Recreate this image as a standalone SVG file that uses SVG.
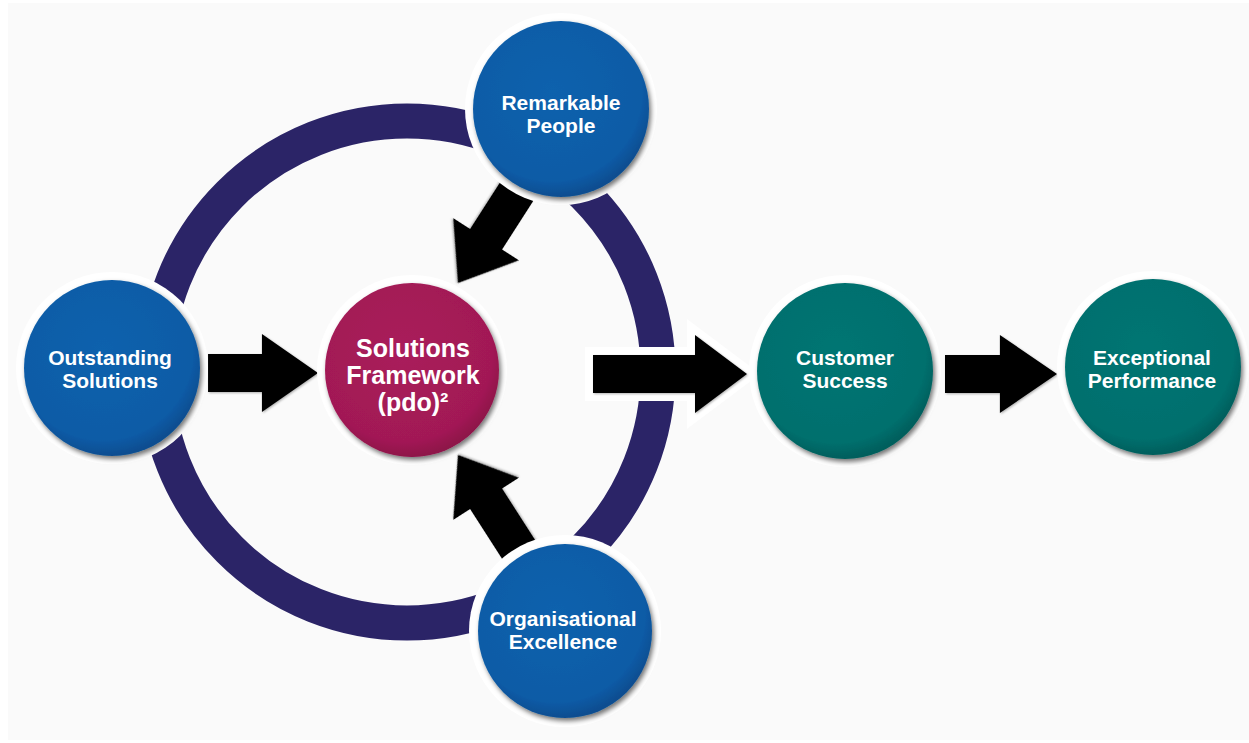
<svg xmlns="http://www.w3.org/2000/svg" width="1249" height="743" viewBox="0 0 1249 743">
  <defs>
    <radialGradient id="gBlue" cx="45%" cy="40%" r="60%">
      <stop offset="0%" stop-color="#0d62ad"/>
      <stop offset="85%" stop-color="#0a5ba6"/>
      <stop offset="100%" stop-color="#084d90"/>
    </radialGradient>
    <radialGradient id="gRed" cx="45%" cy="40%" r="60%">
      <stop offset="0%" stop-color="#a91d5b"/>
      <stop offset="85%" stop-color="#a21955"/>
      <stop offset="100%" stop-color="#8e1249"/>
    </radialGradient>
    <radialGradient id="gTeal" cx="45%" cy="40%" r="60%">
      <stop offset="0%" stop-color="#047573"/>
      <stop offset="85%" stop-color="#006f6d"/>
      <stop offset="100%" stop-color="#005e5c"/>
    </radialGradient>
    <filter id="shadow" x="-20%" y="-20%" width="140%" height="140%">
      <feDropShadow dx="2" dy="3" stdDeviation="2.5" flood-color="#000" flood-opacity="0.55"/>
    </filter>
    <filter id="ashadow" x="-20%" y="-20%" width="140%" height="140%">
      <feDropShadow dx="1" dy="1" stdDeviation="1" flood-color="#000" flood-opacity="0.3"/>
    </filter>
    <polygon id="arrowH" points="0,0 -52,-39 -52,-19 -102,-19 -102,19 -52,19 -52,39"/>
    <polygon id="arrowBig" points="0,0 -52,-39 -52,-19 -154,-19 -154,19 -52,19 -52,39"/>
    <polygon id="arrowD" points="0,0 -52,-39 -52,-19 -130,-19 -130,19 -52,19 -52,39"/>
  </defs>
  <style>
    .halo { fill: #ffffff; }
    .blue { fill: url(#gBlue); filter: url(#shadow); }
    .red { fill: url(#gRed); filter: url(#shadow); }
    .teal { fill: url(#gTeal); filter: url(#shadow); }
    .lbl { font-family: "Liberation Sans", Arial, sans-serif; font-weight: bold; fill: #ffffff; text-anchor: middle; font-size: 21px; }
    .lblBig { font-size: 25px; }
    .arrow { fill: #000000; filter: url(#ashadow); }
    .arrowOutline { fill: #ffffff; stroke: #ffffff; stroke-width: 16; stroke-linejoin: miter; }
    .ring { fill: none; stroke: #2b2467; stroke-width: 35; }
  </style>

  <rect x="0" y="0" width="1249" height="743" fill="#ffffff"/>
  <rect x="8" y="3" width="1241" height="737" fill="#fafafa"/>

  <g id="connectors">
    <circle class="ring" cx="407" cy="372" r="251"/>
    <use href="#arrowH" class="arrow" transform="translate(318,373) scale(1.078,1)"/>
    <use href="#arrowBig" class="arrowOutline" transform="translate(747,374)"/>
    <use href="#arrowBig" class="arrow" transform="translate(747,374)"/>
    <use href="#arrowH" class="arrow" transform="translate(1057,374) scale(1.098,1)"/>
    <use href="#arrowD" class="arrow" transform="translate(458,283) rotate(122.7)"/>
    <use href="#arrowD" class="arrow" transform="translate(458,455) rotate(-122.7)"/>
  </g>

  <g id="node-remarkable">
    <circle class="halo" cx="561" cy="109" r="96"/>
    <circle class="blue" cx="561" cy="109" r="88"/>
    <text class="lbl" x="561" y="110">Remarkable</text>
    <text class="lbl" x="561" y="133">People</text>
  </g>

  <g id="node-outstanding">
    <circle class="halo" cx="112" cy="368" r="96"/>
    <circle class="blue" cx="112" cy="368" r="88"/>
    <text class="lbl" x="110" y="365">Outstanding</text>
    <text class="lbl" x="110" y="388">Solutions</text>
  </g>

  <g id="node-framework">
    <circle class="halo" cx="412" cy="370" r="95"/>
    <circle class="red" cx="412" cy="370" r="87"/>
    <text class="lbl lblBig" x="413" y="357">Solutions</text>
    <text class="lbl lblBig" x="413" y="384">Framework</text>
    <text class="lbl lblBig" x="413" y="411">(pdo)²</text>
  </g>

  <g id="node-organisational">
    <circle class="halo" cx="565" cy="631" r="96"/>
    <circle class="blue" cx="565" cy="631" r="87"/>
    <text class="lbl" x="563" y="626">Organisational</text>
    <text class="lbl" x="563" y="649">Excellence</text>
  </g>

  <g id="node-customer">
    <circle class="halo" cx="845" cy="371" r="96"/>
    <circle class="teal" cx="845" cy="371" r="88"/>
    <text class="lbl" x="845" y="365">Customer</text>
    <text class="lbl" x="845" y="388">Success</text>
  </g>

  <g id="node-exceptional">
    <circle class="halo" cx="1153" cy="367" r="96"/>
    <circle class="teal" cx="1153" cy="367" r="88"/>
    <text class="lbl" x="1152" y="365">Exceptional</text>
    <text class="lbl" x="1152" y="388">Performance</text>
  </g>
</svg>
